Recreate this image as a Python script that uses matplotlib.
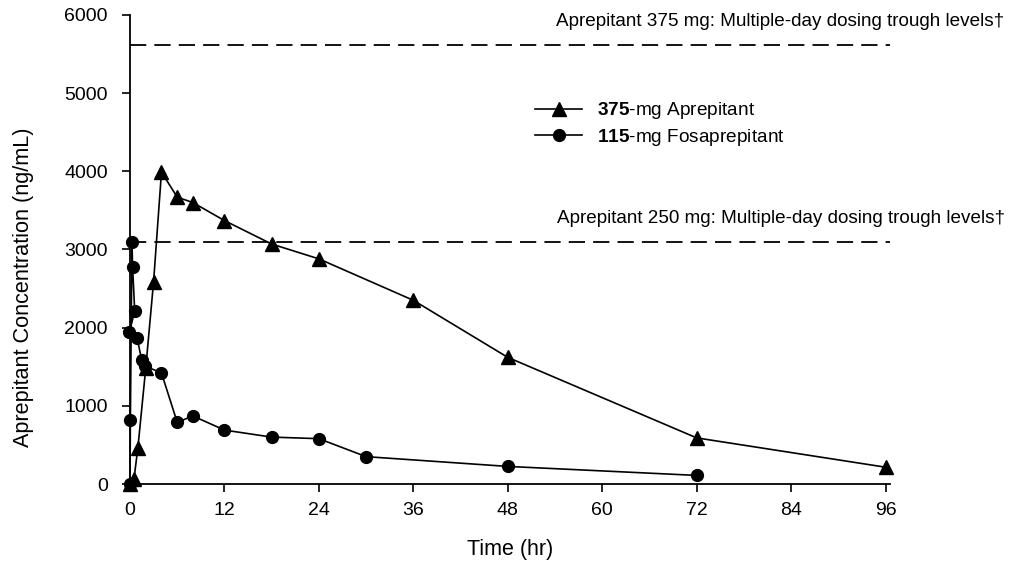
import matplotlib
matplotlib.use("Agg")
import matplotlib.pyplot as plt

plt.rcParams['font.family'] = ['Liberation Sans', 'DejaVu Sans']
plt.rcParams['mathtext.fontset'] = 'custom'
plt.rcParams['mathtext.rm'] = 'Liberation Sans'
plt.rcParams['mathtext.bf'] = 'Liberation Sans:bold'

# Data
time_apr = [0, 0.5, 1, 2, 3, 4, 6, 8, 12, 18, 24, 36, 48, 72, 96]
conc_apr = [0, 60, 460, 1480, 2590, 3990, 3670, 3600, 3370, 3070, 2880, 2350, 1620, 590, 215]

time_fos = [0, 0.05, 0.25, 0.33, 0.6, -0.1, 0.9, 1.5, 1.9, 4, 6, 8, 12, 18, 24, 30, 48, 72]
conc_fos = [0, 820, 3100, 2780, 2210, 1940, 1870, 1580, 1510, 1420, 790, 870, 690, 600, 580, 350, 225, 110]

trough_levels = [5620, 3100]
trough_labels = ["Aprepitant 375 mg: Multiple-day dosing trough levels\u2020",
                 "Aprepitant 250 mg: Multiple-day dosing trough levels\u2020"]

series_labels = [r"$\mathbf{375}$-mg Aprepitant", r"$\mathbf{115}$-mg Fosaprepitant"]
x_ticks = [0, 12, 24, 36, 48, 60, 72, 84, 96]
y_ticks = [0, 1000, 2000, 3000, 4000, 5000, 6000]

fig = plt.figure(figsize=(10.10, 5.63), dpi=100)
ax = fig.add_axes([0.1287, 0.1403, 0.752, 0.8331])

ax.plot(time_apr, conc_apr, color='black', lw=1.2, marker='^', ms=10,
        label=series_labels[0], clip_on=False, zorder=3)
ax.plot(time_fos, conc_fos, color='black', lw=1.2, marker='o', ms=8.5,
        label=series_labels[1], clip_on=False, zorder=3)

for lvl, txt in zip(trough_levels, trough_labels):
    ax.axhline(lvl, xmin=0, xmax=1, color='black', lw=1.3, dashes=(9, 4.5))
    ax.annotate(txt, xy=(1.0, lvl), xycoords=('axes fraction', 'data'),
                xytext=(115, 23), textcoords='offset pixels',
                ha='right', va='center', fontsize=13.6)

ax.set_xlim(0, 96.5)
ax.set_ylim(0, 6000)
ax.set_xticks(x_ticks)
ax.set_yticks(y_ticks)
ax.spines['top'].set_visible(False)
ax.spines['right'].set_visible(False)
for s in ['left', 'bottom']:
    ax.spines[s].set_linewidth(1.3)
ax.tick_params(axis='y', direction='out', length=6, width=1.2, labelsize=14, pad=10)
ax.tick_params(axis='x', direction='out', length=6, width=1.2, labelsize=14, pad=7)

ax.set_xlabel("Time (hr)", fontsize=15.5, labelpad=14)
ax.set_ylabel("Aprepitant Concentration (ng/mL)", fontsize=15.6)
ax.yaxis.set_label_coords(-0.127, 0.42)

ax.legend(loc='upper left', bbox_to_anchor=(0.533, 0.818), frameon=False,
          fontsize=13.7, handlelength=2.5, handletextpad=0.75, labelspacing=0.3,
          borderpad=0, borderaxespad=0)

fig.savefig("out.png", dpi=100)
